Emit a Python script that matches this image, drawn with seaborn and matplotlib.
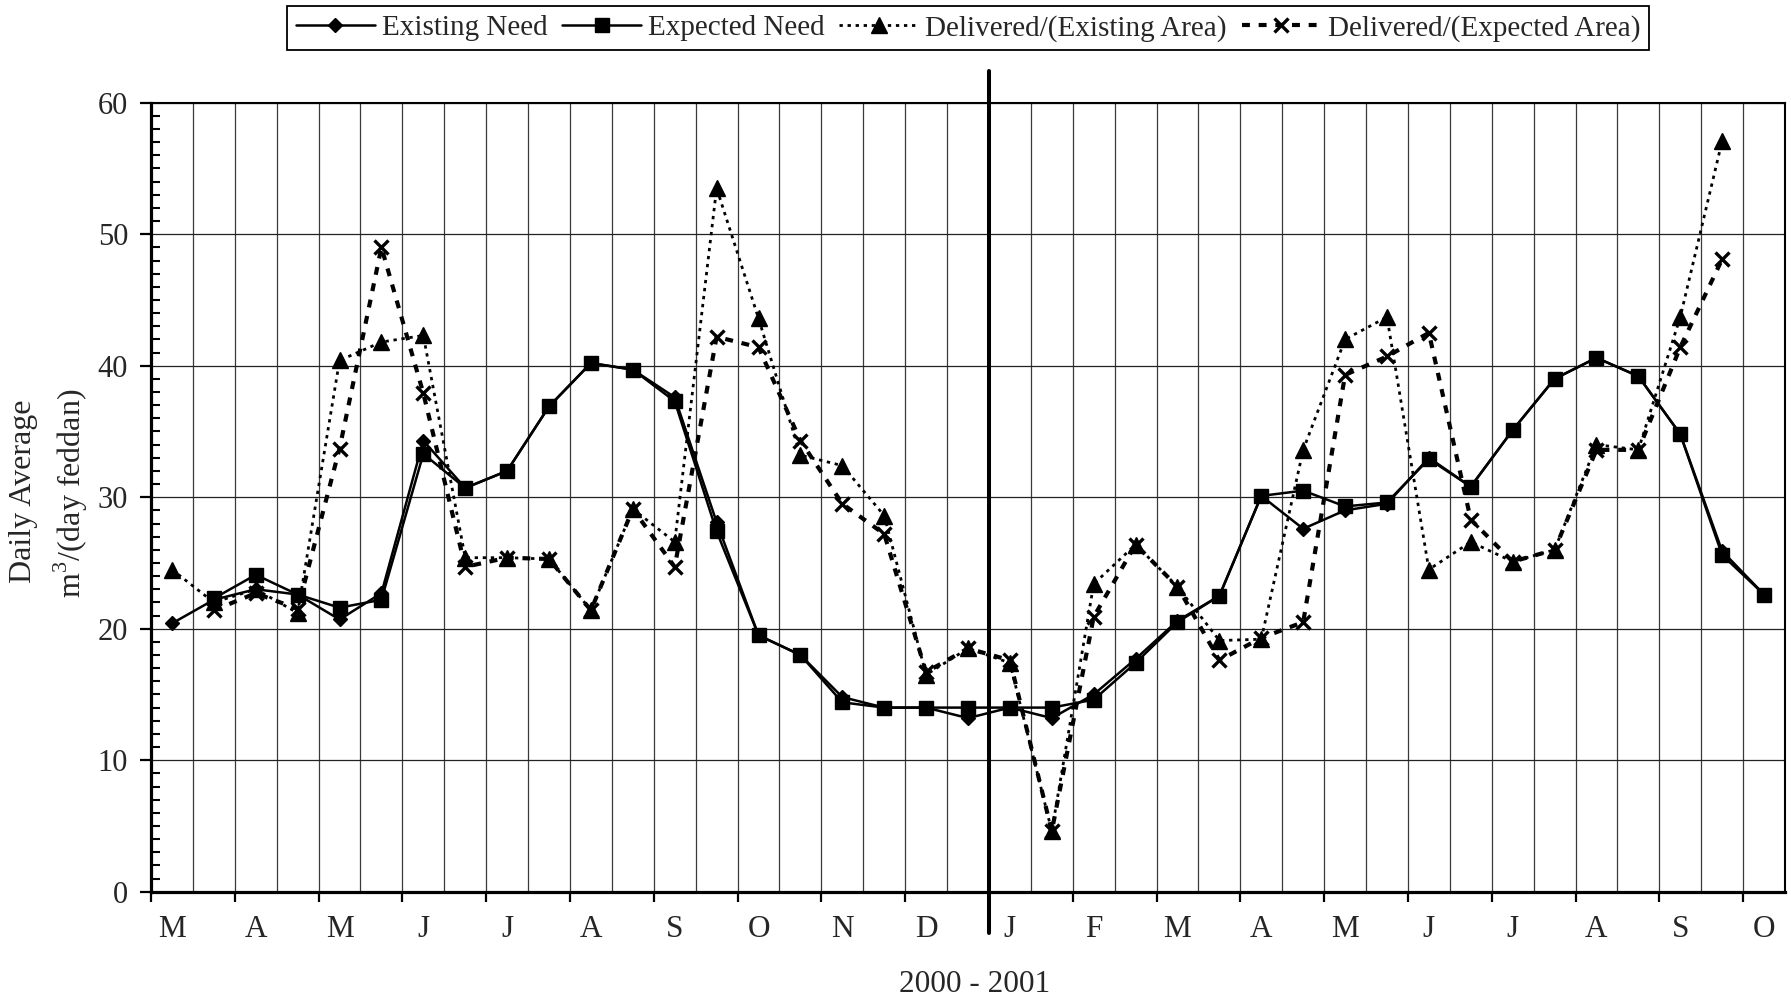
import numpy as np
import pandas as pd
import matplotlib
matplotlib.use("Agg")
import matplotlib.pyplot as plt
from matplotlib.ticker import MultipleLocator
import seaborn as sns

# Half-month periods from March 2000 to early October 2001
months = ["M", "A", "M", "J", "J", "A", "S", "O", "N", "D",
          "J", "F", "M", "A", "M", "J", "J", "A", "S", "O"]

existing_need = [20.4, 22.2, 23.0, 22.6, 20.7, 22.7, 34.3, 30.7, 32.0, 36.9,
                 40.2, 39.7, 37.6, 28.1, 19.5, 18.0, 14.8, 14.0, 14.0, 13.2,
                 14.0, 13.2, 15.0, 17.7, 20.6, 22.5, 30.1, 27.6, 29.0, 29.5,
                 33.0, 30.8, 35.1, 39.0, 40.6, 39.2, 34.8, 25.9, 22.6]

expected_need = [np.nan, 22.3, 24.1, 22.6, 21.6, 22.2, 33.3, 30.7, 32.0, 36.9,
                 40.2, 39.7, 37.3, 27.4, 19.5, 18.0, 14.4, 14.0, 14.0, 14.0,
                 14.0, 14.0, 14.6, 17.4, 20.5, 22.5, 30.1, 30.5, 29.3, 29.6,
                 32.9, 30.8, 35.1, 39.0, 40.6, 39.2, 34.8, 25.6, 22.6]

delivered_existing = [24.5, 22.0, 23.0, 21.2, 40.4, 41.8, 42.3, 25.4, 25.4, 25.3,
                      21.4, 29.1, 26.6, 53.5, 43.6, 33.2, 32.4, 28.6, 16.5, 18.5,
                      17.4, 4.6, 23.4, 26.4, 23.2, 19.1, 19.2, 33.6, 42.0, 43.7,
                      24.5, 26.6, 25.1, 26.0, 34.0, 33.6, 43.7, 57.1, np.nan]

delivered_expected = [np.nan, 21.4, 22.7, 21.5, 33.7, 49.0, 37.9, 24.7, 25.4, 25.3,
                      21.4, 29.1, 24.7, 42.2, 41.4, 34.3, 29.5, 27.2, 16.7, 18.5,
                      17.6, 4.6, 20.9, 26.4, 23.2, 17.6, 19.3, 20.5, 39.3, 40.7,
                      42.5, 28.3, 25.1, 26.0, 33.6, 33.6, 41.4, 48.1, np.nan]

period = np.arange(len(existing_need))
df = pd.DataFrame({
    "period": period,
    "Existing Need": existing_need,
    "Expected Need": expected_need,
    "Delivered/(Existing Area)": delivered_existing,
    "Delivered/(Expected Area)": delivered_expected,
})

sns.set_theme(style="white")
plt.rcParams["font.family"] = ["Liberation Serif", "DejaVu Serif"]
plt.rcParams["mathtext.fontset"] = "custom"
plt.rcParams["mathtext.rm"] = "Liberation Serif"

fig = plt.figure(figsize=(17.91, 10.0), dpi=100)
ax = fig.add_axes([151 / 1791, 1 - 891.7 / 1000, (1785 - 151) / 1791, (891.7 - 102.7) / 1000])

series_style = {
    "Existing Need": dict(marker="D", markersize=7, linestyle="-", linewidth=1.8,
                          markerfacecolor="black", markeredgecolor="black", markeredgewidth=1),
    "Expected Need": dict(marker="s", markersize=10.5, linestyle="-", linewidth=1.8,
                          markerfacecolor="black", markeredgecolor="black", markeredgewidth=1),
    "Delivered/(Existing Area)": dict(marker="^", markersize=11, linestyle=(0, (1.2, 1.7)),
                                      linewidth=2.0, markerfacecolor="black",
                                      markeredgecolor="black", markeredgewidth=1),
    "Delivered/(Expected Area)": dict(marker="x", markersize=10, linestyle=(0, (1.9, 2.1)),
                                      linewidth=3.0, markeredgecolor="black",
                                      markeredgewidth=2.4),
}

for name, style in series_style.items():
    sns.lineplot(data=df, x="period", y=name, ax=ax, color="black",
                 label=name, zorder=5, **style)

# Axes limits and ticks
ax.set_xlim(-0.5, len(period) - 0.5)
ax.set_ylim(0, 60)
ax.set_xlabel("")
ax.set_ylabel("")

ax.set_xticks(np.arange(0, len(period), 2))
ax.set_xticklabels(months, fontsize=22.5)
ax.set_xticks(np.arange(-0.5, len(period), 1), minor=True)
ax.tick_params(axis="x", which="both", length=0, pad=17, bottom=True)

ax.set_yticks(np.arange(0, 61, 10))
ax.set_yticklabels([str(v) for v in range(0, 61, 10)], fontsize=22)
ax.yaxis.set_minor_locator(MultipleLocator(1))
ax.tick_params(axis="y", which="major", direction="out", length=8, width=1.6,
               pad=8.5, left=True, color="black")
ax.tick_params(axis="y", which="minor", direction="in", length=6.5, width=1.5,
               left=True, color="black")

# Month boundary tick marks
sec = ax.secondary_xaxis("bottom")
sec.set_xticks(np.arange(-0.5, len(period) - 1, 2))
sec.tick_params(axis="x", length=7.5, width=1.6, labelbottom=False, color="black")
for sp in sec.spines.values():
    sp.set_visible(False)

# Grid
ax.grid(axis="y", which="major", color="#222222", linewidth=0.9)
ax.grid(axis="x", which="minor", color="#3a3a3a", linewidth=0.9)
ax.grid(axis="x", which="major", visible=False)
ax.set_axisbelow(True)

# Spines
for side in ["left", "bottom"]:
    ax.spines[side].set_linewidth(2.3)
    ax.spines[side].set_color("black")
for side in ["top", "right"]:
    ax.spines[side].set_linewidth(1.5)
    ax.spines[side].set_color("black")
    ax.spines[side].set_visible(True)

# Year boundary between December and January
ax.axvline(19.5, ymin=-0.052, ymax=1.040, color="black", linewidth=2.9,
           clip_on=False, zorder=6)

# Axis titles
fig.text(24 / 1791, 1 - 491 / 1000, "Daily Average", rotation=90,
         ha="center", va="center", fontsize=23)
fig.text(71 / 1791, 1 - 493 / 1000, "m$^{3}$/(day feddan)", rotation=90,
         ha="center", va="center", fontsize=23)
fig.text(975 / 1791, 1 - 985 / 1000, "2000 - 2001", ha="center", va="center",
         fontsize=22.5)

# Legend
handles, labels = ax.get_legend_handles_labels()
leg = ax.legend(handles, labels, loc="upper center",
                bbox_to_anchor=(968 / 1791, 0.994), bbox_transform=fig.transFigure,
                ncol=4, frameon=True, fancybox=False, edgecolor="black",
                framealpha=1, borderpad=0.3, handlelength=2.7, handletextpad=0.25,
                columnspacing=0.5, borderaxespad=0, fontsize=21)
leg.get_frame().set_linewidth(1.3)

fig.savefig("out.png", dpi=100)
